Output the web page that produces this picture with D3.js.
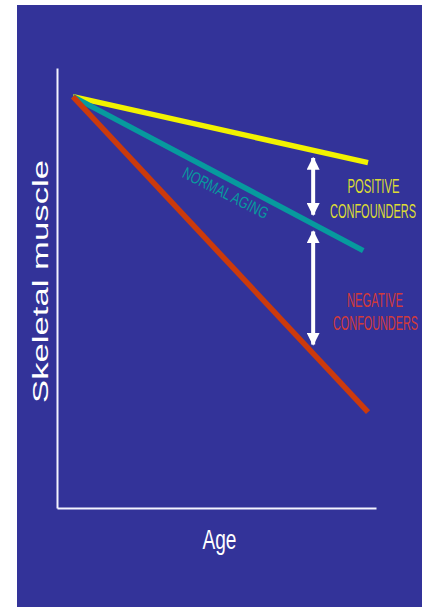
<!DOCTYPE html>
<html>
<head>
<meta charset="utf-8">
<script src="https://cdn.jsdelivr.net/npm/d3@7"></script>
<style>
  html, body { margin: 0; padding: 0; background: #ffffff; }
  svg { display: block; }
  text { font-family: "Liberation Sans", Arial, Helvetica, sans-serif; }
</style>
</head>
<body>
<svg id="chart" width="422" height="607"></svg>
<script>
// ---- Data (conceptual schematic: age vs skeletal muscle) ----
const seriesNames  = ["Positive confounders", "Normal aging", "Negative confounders"];
const seriesColors = ["#f2f200", "#079a9e", "#cc3a0c"];
const startAge     = [5, 5, 5];
const endAge       = [97.5, 96, 97.5];
const startMuscle  = [93.5, 93.5, 93.5];
const endMuscle    = [78.5, 58.5, 21.8];

// double-headed arrows marking the confounder gaps
const arrowAge     = [80.3, 80.3];
const arrowTop     = [80, 63.3];
const arrowBottom  = [66.2, 36.7];

const xLabel = "Age";
const yLabel = "Skeletal muscle";

// ---- Layout ----
const svg = d3.select("#chart");
svg.append("rect").attr("x", 17).attr("y", 5).attr("width", 405).attr("height", 602)
  .attr("fill", "#333399");

const x = d3.scaleLinear().domain([0, 100]).range([57, 376]);
const y = d3.scaleLinear().domain([0, 100]).range([508, 68]);

// axes (no ticks)
const gx = svg.append("g").attr("transform", `translate(0,${y(0)})`)
  .call(d3.axisBottom(x).tickValues([]).tickSizeOuter(0));
const gy = svg.append("g").attr("transform", `translate(${x(0)},0)`)
  .call(d3.axisLeft(y).tickValues([]).tickSizeOuter(0));
[gx, gy].forEach(g => g.select(".domain").attr("stroke", "#f4f4ff").attr("stroke-width", 2));

// lines
const line = d3.line().x(d => x(d[0])).y(d => y(d[1]));
seriesNames.forEach((name, i) => {
  svg.append("path")
    .datum([[startAge[i], startMuscle[i]], [endAge[i], endMuscle[i]]])
    .attr("d", line)
    .attr("fill", "none")
    .attr("stroke", seriesColors[i])
    .attr("stroke-width", 5.5);
});

// arrows
const defs = svg.append("defs");
defs.append("marker").attr("id", "ah").attr("viewBox", "0 0 10 10")
  .attr("refX", 9).attr("refY", 5).attr("markerWidth", 13).attr("markerHeight", 13)
  .attr("markerUnits", "userSpaceOnUse").attr("orient", "auto-start-reverse")
  .append("path").attr("d", "M0,0 L10,5 L0,10 Z").attr("fill", "#ffffff");
arrowAge.forEach((a, i) => {
  svg.append("line")
    .attr("x1", x(a)).attr("x2", x(a))
    .attr("y1", y(arrowTop[i]) + 2).attr("y2", y(arrowBottom[i]) - 2)
    .attr("stroke", "#ffffff").attr("stroke-width", 4)
    .attr("marker-start", "url(#ah)").attr("marker-end", "url(#ah)");
});

// texts: drawn at a font size, then squeezed horizontally to the wanted width
function label(txt, cx, baseline, size, len, color, rot) {
  const t = svg.append("text")
    .attr("text-anchor", "middle").attr("font-size", size)
    .attr("fill", color).text(txt);
  const w = t.node().getComputedTextLength();
  t.attr("transform", `translate(${cx},${baseline}) rotate(${rot || 0}) scale(${len / w},1)`);
  return t;
}
label("POSITIVE", 373.5, 193, 20, 52, "#dcdc34");
label("CONFOUNDERS", 373, 218, 20, 86, "#dcdc34");
label("NEGATIVE", 375, 307, 20, 56, "#d23a3a");
label("CONFOUNDERS", 375.5, 330, 20, 85, "#d23a3a");

label("NORMAL AGING", 223, 198, 16.5, 94, "#079a9e", 27);

label(xLabel, 219.5, 549, 28, 34, "#ffffff");

label(yLabel, 48, 281.5, 21.5, 243, "#ffffff", -90);
</script>
</body>
</html>
